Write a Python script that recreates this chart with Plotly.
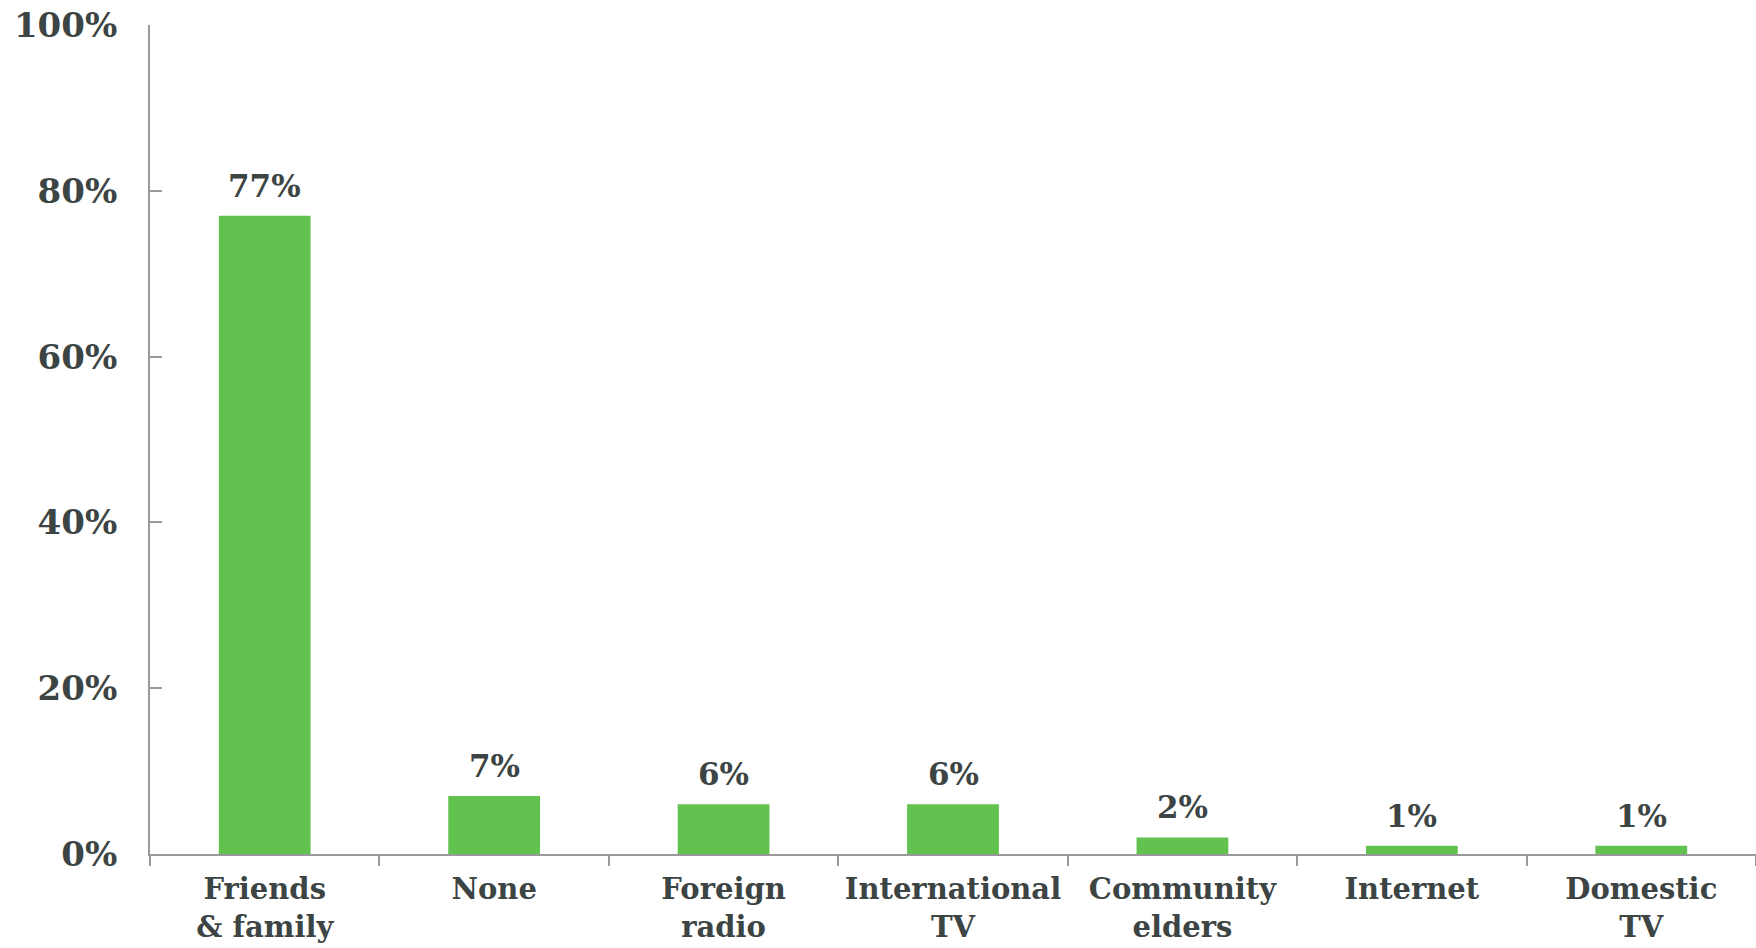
import plotly.graph_objects as go

categories = ["Friends<br>& family", "None", "Foreign<br>radio", "International<br>TV",
              "Community<br>elders", "Internet", "Domestic<br>TV"]
shares = [77, 7, 6, 6, 2, 1, 1]
y_ticks = [0, 20, 40, 60, 80, 100]
y_tick_labels = ["0%", "20%", "40%", "60%", "80%", "100%"]

TEXT = "#3d4444"
AXIS = "#999999"
GREEN = "#62c250"
FONT = "DejaVu Serif"

fig = go.Figure(go.Bar(
    x=categories,
    y=shares,
    marker=dict(color=GREEN, line=dict(width=0)),
    width=0.4,
    cliponaxis=False,
))

# value labels above each bar
for cat, v in zip(categories, shares):
    fig.add_annotation(
        x=cat, y=v, text=f"{v}%", showarrow=False,
        xref="x", yref="y", yanchor="bottom", yshift=10,
        font=dict(family=FONT, size=31, color=TEXT, weight="bold"),
    )

fig.update_layout(
    width=1756, height=948,
    margin=dict(l=150, r=0, t=25, b=94),
    paper_bgcolor="white", plot_bgcolor="white",
    showlegend=False,
    font=dict(family=FONT, color=TEXT, weight="bold"),
)

fig.update_xaxes(
    type="category",
    range=[-0.5, len(categories) - 0.5],
    tickson="boundaries",
    tickangle=0,
    automargin=False,
    ticks="outside", ticklen=10, tickwidth=2, tickcolor=AXIS,
    showline=True, linecolor=AXIS, linewidth=2,
    showgrid=False, zeroline=False,
    tickfont=dict(family=FONT, size=29, color=TEXT, weight="bold"),
    ticklabelstandoff=8,
)

fig.update_yaxes(
    range=[0, 100],
    tickmode="array",
    tickvals=y_ticks,
    ticktext=y_tick_labels,
    automargin=False,
    ticks="inside", ticklen=12, tickwidth=2, tickcolor=AXIS,
    showline=True, linecolor=AXIS, linewidth=2,
    showgrid=False, zeroline=False,
    tickfont=dict(family=FONT, size=34, color=TEXT, weight="bold"),
    ticklabelstandoff=24,
)

fig.write_html("out.html")
